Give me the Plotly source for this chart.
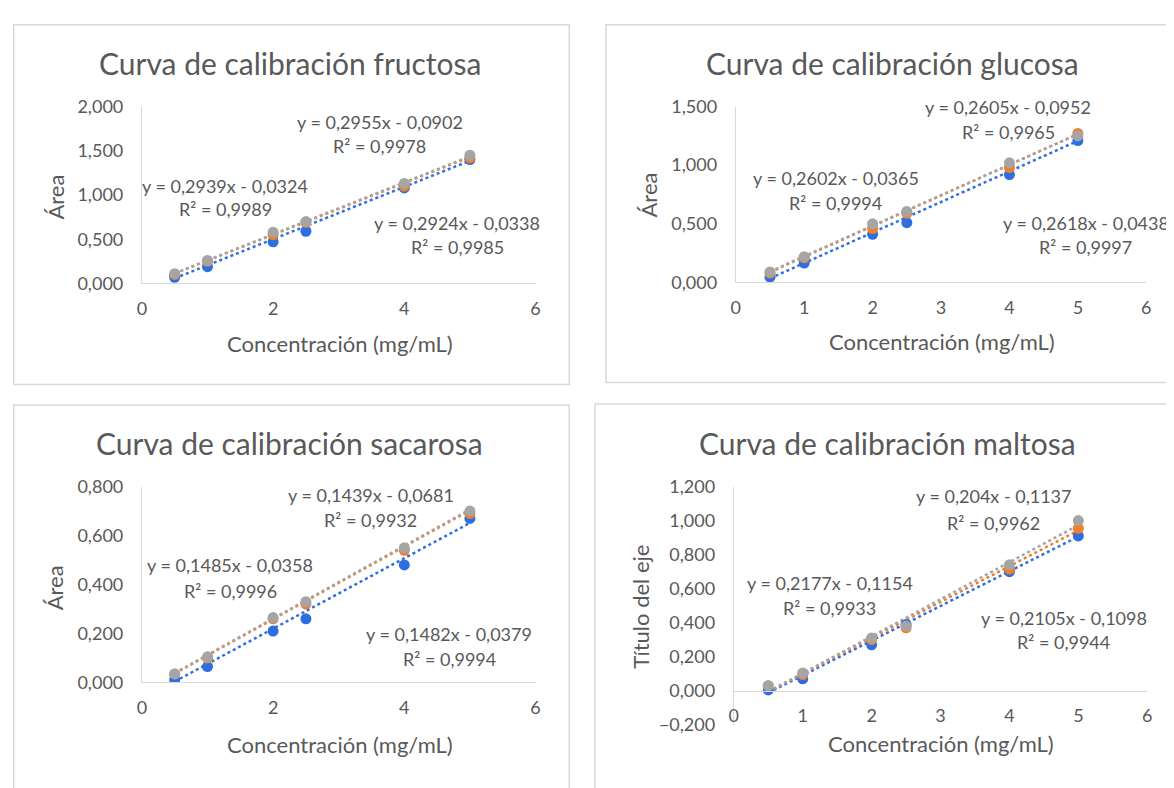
import plotly.graph_objects as go

W, H = 1174, 788
OFF = 8  # default page margin of the html body

# ---------------- data ----------------
conc = [0.5, 1, 2, 2.5, 4, 5]

fru_blue = [0.07, 0.19, 0.47, 0.59, 1.08, 1.40]
fru_orange = [0.10, 0.25, 0.55, 0.69, 1.10, 1.42]
fru_gray = [0.11, 0.26, 0.58, 0.70, 1.13, 1.45]
fru_slope = [0.2955, 0.2924, 0.2939]
fru_intercept = [-0.0902, -0.0338, -0.0324]
fru_r2 = [0.9978, 0.9985, 0.9989]

glu_blue = [0.045, 0.165, 0.41, 0.51, 0.92, 1.21]
glu_orange = [0.08, 0.21, 0.46, 0.59, 0.98, 1.27]
glu_gray = [0.09, 0.22, 0.50, 0.605, 1.02, 1.25]
glu_slope = [0.2605, 0.2618, 0.2602]
glu_intercept = [-0.0952, -0.0438, -0.0365]
glu_r2 = [0.9965, 0.9997, 0.9994]

sac_blue = [0.01, 0.065, 0.21, 0.26, 0.48, 0.67]
sac_orange = [0.035, 0.10, 0.26, 0.32, 0.54, 0.69]
sac_gray = [0.035, 0.105, 0.265, 0.33, 0.55, 0.70]
sac_slope = [0.1439, 0.1482, 0.1485]
sac_intercept = [-0.0681, -0.0379, -0.0358]
sac_r2 = [0.9932, 0.9994, 0.9996]

mal_blue = [0.005, 0.07, 0.27, 0.39, 0.70, 0.91]
mal_orange = [0.03, 0.095, 0.30, 0.37, 0.715, 0.955]
mal_gray = [0.03, 0.105, 0.31, 0.38, 0.74, 1.00]
mal_slope = [0.204, 0.2105, 0.2177]
mal_intercept = [-0.1137, -0.1098, -0.1154]
mal_r2 = [0.9962, 0.9944, 0.9933]

titles = ["Curva de calibración fructosa", "Curva de calibración glucosa",
          "Curva de calibración sacarosa", "Curva de calibración maltosa"]
x_title = "Concentración (mg/mL)"
y_titles = ["Área", "Área", "Área", "Título del eje"]

# ---------------- style ----------------
FONT = "Lato"
TXT = "#595959"
LINE = "#D9D9D9"
COLORS = ["#2D6FE3", "#F07F2A", "#A5A5A5"]


def px(x, y):
    return (x - OFF) / W, 1 - (y - OFF) / H


def comma(v):
    return str(v).replace(".", ",")


def eq_text(s, b):
    sign = "-" if b < 0 else "+"
    return f"y = {comma(s)}x {sign} {comma(abs(b))}"


panels = [
    dict(series=[fru_blue, fru_orange, fru_gray], slope=fru_slope, icpt=fru_intercept, r2=fru_r2,
         xpx=(138, 535), ypx=(279, 97), yr=(0, 2.0), dx=2, dy=0.5,
         labels=[(378, 113, 138), (456, 217, 242), (222, 179, 202)],
         title=(287, 52), xt=(338, 341), yt=(51, 190), border=(7, 13, 569, 383)),
    dict(series=[glu_blue, glu_orange, glu_gray], slope=glu_slope, icpt=glu_intercept, r2=glu_r2,
         xpx=(737, 1151), ypx=(278, 97), yr=(0, 1.5), dx=1, dy=0.5,
         labels=[(1012, 97, 123), (1090, 217, 242), (838, 171, 196)],
         title=(895, 52), xt=(945, 339), yt=(649, 188), border=(606, 13, 1190, 381)),
    dict(series=[sac_blue, sac_orange, sac_gray], slope=sac_slope, icpt=sac_intercept, r2=sac_r2,
         xpx=(138, 535), ypx=(689.5, 488), yr=(0, 0.8), dx=2, dy=0.2,
         labels=[(369, 497, 522), (448, 640, 665), (227, 569, 595)],
         title=(287, 443), xt=(338, 753), yt=(50, 592), border=(7, 404, 569, 800)),
    dict(series=[mal_blue, mal_orange, mal_gray], slope=mal_slope, icpt=mal_intercept, r2=mal_r2,
         xpx=(735, 1152), ypx=(733, 488), yr=(-0.2, 1.2), dx=1, dy=0.2,
         labels=[(997, 498, 525), (1068, 623, 648), (832, 587, 613)],
         title=(890, 443), xt=(944, 752), yt=(641, 612), border=(595, 403, 1190, 800),
         xaxis_at=698),
]

fig = go.Figure()
annotations = []
shapes = []
layout = {}

for i, p in enumerate(panels):
    n = "" if i == 0 else str(i + 1)
    xa, ya = "x" + n, "y" + n
    # trendlines
    for k in range(3):
        xs = [min(conc), max(conc)]
        ys = [p["slope"][k] * v + p["icpt"][k] for v in xs]
        fig.add_trace(go.Scatter(x=xs, y=ys, mode="lines", xaxis=xa, yaxis=ya,
                                 line=dict(color=COLORS[k], width=2.5, dash="dot"),
                                 showlegend=False, hoverinfo="skip"))
    # markers
    for k in range(3):
        fig.add_trace(go.Scatter(x=conc, y=p["series"][k], mode="markers", xaxis=xa, yaxis=ya,
                                 marker=dict(color=COLORS[k], size=11),
                                 showlegend=False))
    x0, _ = px(p["xpx"][0], 0)
    x1, _ = px(p["xpx"][1], 0)
    _, y0 = px(0, p["ypx"][0])
    _, y1 = px(0, p["ypx"][1])
    xaxis = dict(domain=[x0, x1], range=[0, 6], dtick=p["dx"], tick0=0,
                 showgrid=False, zeroline=False, showline=True, linecolor=LINE, linewidth=1,
                 ticks="", ticklabelstandoff=9,
                 tickfont=dict(family=FONT, size=18, color=TXT), fixedrange=True)
    if "xaxis_at" in p:
        xaxis.update(anchor="free", position=px(0, p["xaxis_at"])[1])
    else:
        xaxis.update(anchor=ya)
    yaxis = dict(domain=[y0, y1], range=list(p["yr"]), dtick=p["dy"], tick0=0, anchor=xa,
                 tickformat=".3f", showgrid=False, zeroline=False, showline=True,
                 linecolor=LINE, linewidth=1, ticks="", ticklabelstandoff=14,
                 tickfont=dict(family=FONT, size=18, color=TXT), fixedrange=True)
    layout["xaxis" + n] = xaxis
    layout["yaxis" + n] = yaxis

    # trendline labels
    for k in range(3):
        cx, ye, yr2 = p["labels"][k]
        ax, ay = px(cx, ye)
        annotations.append(dict(x=ax, y=ay, xref="paper", yref="paper", showarrow=False,
                                text=eq_text(p["slope"][k], p["icpt"][k]),
                                font=dict(family=FONT, size=18, color=TXT),
                                xanchor="center", yanchor="middle"))
        ax, ay = px(cx, yr2)
        annotations.append(dict(x=ax, y=ay, xref="paper", yref="paper", showarrow=False,
                                text="R² = " + comma(p["r2"][k]),
                                font=dict(family=FONT, size=18, color=TXT),
                                xanchor="center", yanchor="middle"))
    # titles
    tx, ty = px(*p["title"])
    annotations.append(dict(x=tx, y=ty, xref="paper", yref="paper", showarrow=False,
                            text=titles[i], font=dict(family=FONT, size=30, color=TXT),
                            xanchor="center", yanchor="middle"))
    tx, ty = px(*p["xt"])
    annotations.append(dict(x=tx, y=ty, xref="paper", yref="paper", showarrow=False,
                            text=x_title, font=dict(family=FONT, size=22, color=TXT),
                            xanchor="center", yanchor="middle"))
    tx, ty = px(*p["yt"])
    annotations.append(dict(x=tx, y=ty, xref="paper", yref="paper", showarrow=False,
                            text=y_titles[i], textangle=-90,
                            font=dict(family=FONT, size=22, color=TXT),
                            xanchor="center", yanchor="middle"))
    bx0, by0, bx1, by1 = p["border"]
    sx0, sy0 = px(max(bx0, OFF + 0.75), by0)
    sx1, sy1 = px(bx1, by1)
    shapes.append(dict(type="rect", xref="paper", yref="paper", x0=sx0, y0=sy1, x1=sx1, y1=sy0,
                       line=dict(color=LINE, width=1.5), layer="below"))

fig.update_layout(width=W, height=H, autosize=False,
                  margin=dict(l=0, r=0, t=0, b=0),
                  paper_bgcolor="white", plot_bgcolor="white",
                  separators=",.", showlegend=False,
                  annotations=annotations, shapes=shapes,
                  font=dict(family=FONT, color=TXT),
                  **layout)

fig.write_html("out.html")
